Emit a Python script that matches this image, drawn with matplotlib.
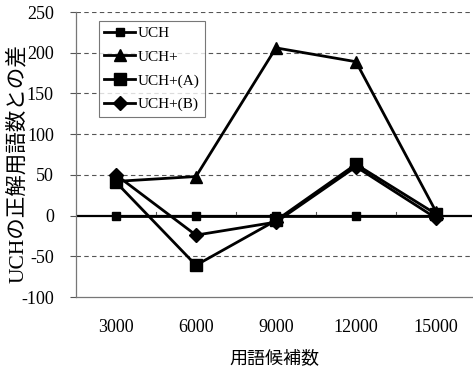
import matplotlib.pyplot as plt

plt.rcParams['font.family'] = ['Liberation Serif', 'Noto Sans CJK JP']
plt.rcParams['axes.unicode_minus'] = False

categories = ['3000', '6000', '9000', '12000', '15000']
uch = [0, 0, 0, 0, 0]
uch_plus = [42, 48, 206, 189, 5]
uch_a = [41, -61, -6, 63, 2]
uch_b = [50, -24, -8, 60, -3]

fig = plt.figure(figsize=(4.73, 3.72), dpi=100)
ax = fig.add_axes([0.1607, 0.2016, 0.837, 0.766])

x = range(len(categories))
ax.set_xlim(-0.5, 4.45)
ax.set_ylim(-100, 250)

# grid lines
for g in [-50, 50, 100, 150, 200, 250]:
    ax.axhline(g, color='#555555', lw=0.8, ls=(0, (4, 3)), zorder=1)
ax.axhline(0, color='black', lw=1.6, zorder=2)
# category boundary ticks on the zero axis
for b in [0.5, 1.5, 2.5, 3.5]:
    ax.plot([b, b], [0, 5], color='#555555', lw=0.8, zorder=2)

ax.plot(x, uch, color='black', lw=2, marker='s', ms=6, label='UCH', zorder=3)
ax.plot(x, uch_plus, color='black', lw=2, marker='^', ms=9, label='UCH+', zorder=3)
ax.plot(x, uch_a, color='black', lw=2, marker='s', ms=9, label='UCH+(A)', zorder=3)
ax.plot(x, uch_b, color='black', lw=2, marker='D', ms=7, label='UCH+(B)', zorder=3)

ax.set_xticks(list(x))
ax.set_xticklabels(categories, fontsize=13)
ax.set_yticks(range(-100, 251, 50))
ax.tick_params(axis='y', labelsize=13, length=4, color='#555555', pad=12)
ax.tick_params(axis='x', length=0, pad=16)

for s in ['right', 'top']:
    ax.spines[s].set_visible(False)
for s in ['left', 'bottom']:
    ax.spines[s].set_color('#777777')
    ax.spines[s].set_linewidth(0.9)

ax.set_xlabel('用語候補数', fontsize=13, labelpad=10)
ax.set_ylabel('UCHの正解用語数との差', fontsize=15.5)
ax.yaxis.set_label_coords(-0.121, 0.468)

leg = ax.legend(loc='upper left', bbox_to_anchor=(0.058, 0.968), fontsize=11,
                frameon=True, fancybox=False, edgecolor='#555555',
                handlelength=2.0, labelspacing=0.65, borderpad=0.35, handletextpad=0.2,
                borderaxespad=0)
leg.get_frame().set_linewidth(0.8)

fig.savefig('out.png', dpi=100)
